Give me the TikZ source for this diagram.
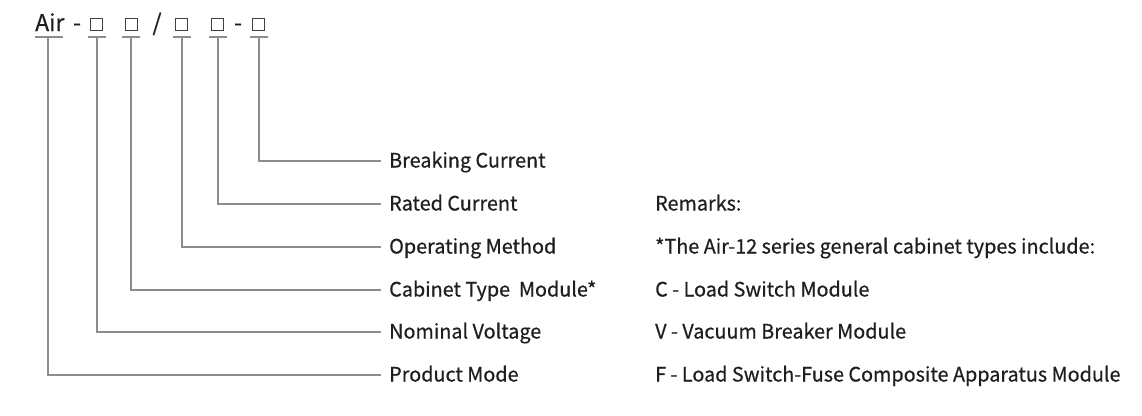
\documentclass[tikz,border=0pt]{standalone}
\usepackage{fontspec}
\setmainfont{Noto Sans CJK SC}
\newfontfamily\lblfont{Noto Sans CJK SC}[FakeBold=0.6]
\begin{document}
\begin{tikzpicture}[x=1pt,y=-1pt,
  txt/.style={text=black!88, inner sep=0pt, font=\lblfont\fontsize{19.8}{22}\selectfont, text height=13pt, text depth=0pt},
  lab/.style={txt, anchor=west, inner xsep=8pt},
  rem/.style={txt, anchor=west},
  conn/.style={draw=black!45, line width=1.5pt},
  ubar/.style={draw=black!45, line width=1.5pt},
  sq/.style={draw=black!75, line width=1pt, minimum size=12pt, inner sep=0pt},
  top/.style={text=black!88, inner sep=0pt, font=\lblfont\fontsize{23}{24}\selectfont, anchor=base}
]
\useasboundingbox (0,0) rectangle (1142,415);
% code line
\node[top, anchor=base west] (air) at (35,31) {Air};
\node[top] (d1) at (77,31) {-};
\node[sq] (b1) at (96,24.5) {};
\node[sq] (b2) at (131,24.5) {};
\node[top] (sl) at (157,31) {/};
\node[sq] (b3) at (181,24.5) {};
\node[sq] (b4) at (217,24.5) {};
\node[top] (d2) at (238,31) {-};
\node[sq] (b5) at (258,24.5) {};
% underline points
\coordinate (u0) at (48,37);
\coordinate (u1) at (97,37);
\coordinate (u2) at (131,37);
\coordinate (u3) at (182,37);
\coordinate (u4) at (218,37);
\coordinate (u5) at (259,37);
\draw[ubar] (35,37) -- (63,37);
\foreach \c in {u1,u2,u3,u4,u5} \draw[ubar] ([xshift=-9pt]\c) -- ([xshift=9pt]\c);
% labels
\node[lab] (l5) at (381,161) {Breaking Current};
\node[lab] (l4) at (381,204) {Rated Current};
\node[lab] (l3) at (381,247) {Operating Method};
\node[lab] (l2) at (381,290) {Cabinet Type\ \ Module*};
\node[lab] (l1) at (381,332) {Nominal Voltage};
\node[lab] (l0) at (381,375) {Product Mode};
% connectors
\draw[conn] (u0) |- (l0.west);
\draw[conn] (u1) |- (l1.west);
\draw[conn] (u2) |- (l2.west);
\draw[conn] (u3) |- (l3.west);
\draw[conn] (u4) |- (l4.west);
\draw[conn] (u5) |- (l5.west);
% remarks
\node[rem] (r0) at (655,204) {Remarks:};
\node[rem] (r1) at (655,247) {*The Air-12 series general cabinet types include:};
\node[rem] (r2) at (655,290) {C - Load Switch Module};
\node[rem] (r3) at (655,332) {V - Vacuum Breaker Module};
\node[rem] (r4) at (655,375) {F - Load Switch-Fuse Composite Apparatus Module};
\end{tikzpicture}
\end{document}
